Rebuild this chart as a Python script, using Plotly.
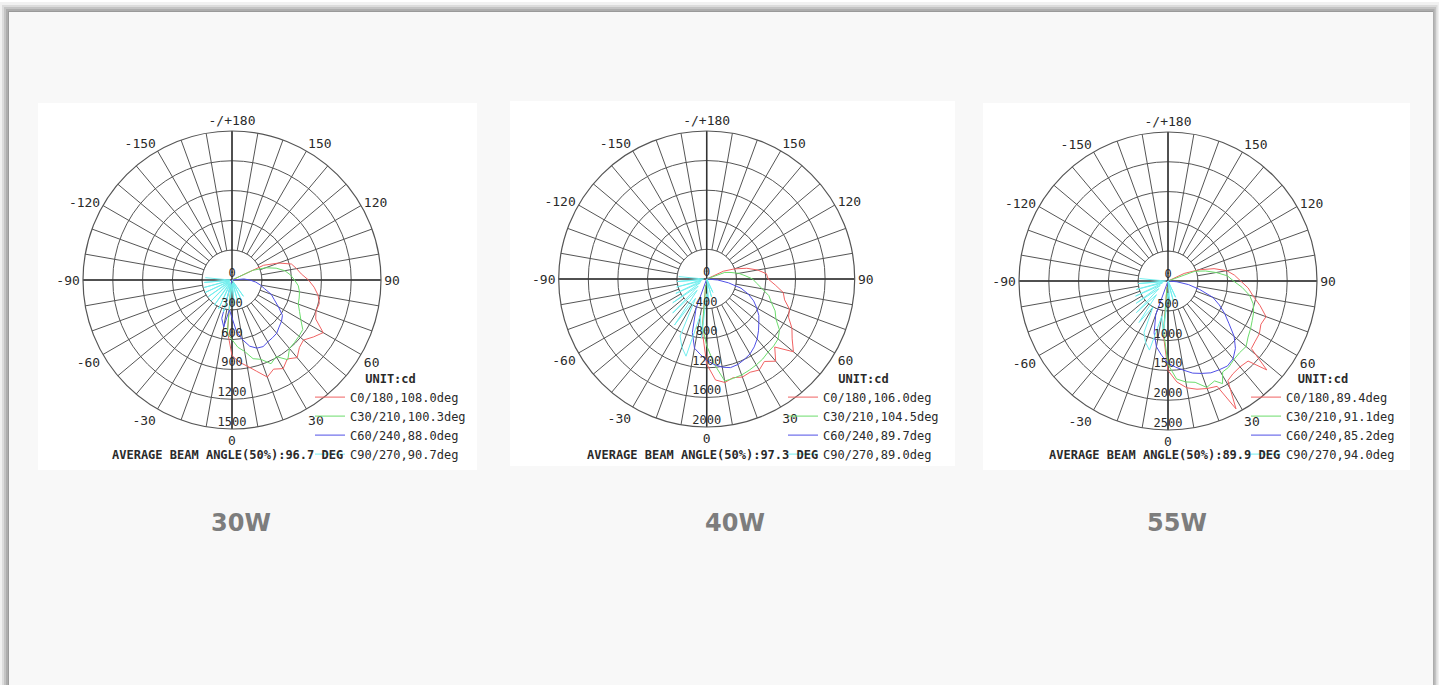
import plotly.graph_objects as go

W, H = 1439, 685

# ---------------- data ----------------
angle_ticks = [0, 30, 60, 90, 120, 150, 180, 210, 240, 270, 300, 330]
angle_labels = ["0", "30", "60", "90", "120", "150", "-/+180", "-150", "-120", "-90", "-60", "-30"]

panel_titles = ["30W", "40W", "55W"]
r_max = [1500, 2000, 2500]
r_step = [300, 400, 500]
beam_texts = ["AVERAGE BEAM ANGLE(50%):96.7 DEG",
              "AVERAGE BEAM ANGLE(50%):97.3 DEG",
              "AVERAGE BEAM ANGLE(50%):89.9 DEG"]
names_30w = ["C0/180,108.0deg", "C30/210,100.3deg", "C60/240,88.0deg", "C90/270,90.7deg"]
names_40w = ["C0/180,106.0deg", "C30/210,104.5deg", "C60/240,89.7deg", "C90/270,89.0deg"]
names_55w = ["C0/180,89.4deg", "C30/210,91.1deg", "C60/240,85.2deg", "C90/270,94.0deg"]

# 30W
red_t_30 = [-10, -5, 0, 5, 10, 15, 20, 25, 30, 35, 40, 45, 50, 55, 60, 65, 70, 75, 80, 85, 90, 95, 100, 105, 110, 115, 120]
red_r_30 = [60, 520, 760, 830, 880, 950, 1040, 990, 1030, 970, 1020, 960, 940, 1000, 1060, 930, 900, 910, 880, 830, 770, 700, 660, 620, 500, 350, 0]
grn_t_30 = [-10, -5, 0, 5, 10, 15, 20, 25, 30, 35, 40, 45, 50, 55, 60, 65, 70, 75, 80, 85, 90, 95, 100, 105, 110, 115, 120]
grn_r_30 = [60, 540, 600, 680, 730, 820, 850, 930, 890, 980, 900, 890, 880, 870, 800, 750, 710, 700, 690, 670, 630, 590, 540, 460, 360, 230, 0]
blu_t_30 = [-20, -15, -10, -5, 0, 5, 10, 15, 20, 25, 30, 35, 40, 45, 50, 55, 60, 65, 70, 75, 80, 85, 90, 95, 100]
blu_r_30 = [0, 400, 480, 300, 380, 520, 610, 690, 730, 740, 720, 710, 700, 670, 650, 620, 540, 470, 420, 340, 290, 240, 180, 120, 0]
cyn_t_30 = [-95, -90, -85, -80, -75, -70, -65, -60, -55, -50, -45, -40, -35, -30, -25, -20, -15, -10, -5, 0, 5, 10, 15, 20, 25, 30, 35, 40]
cyn_r_30 = [270, 20, 280, 30, 290, 20, 300, 30, 290, 40, 300, 30, 310, 40, 320, 30, 330, 50, 300, 40, 260, 30, 240, 30, 220, 20, 200, 0]

# 40W
red_t_40 = [-10, -5, 0, 5, 10, 15, 20, 25, 30, 35, 40, 45, 50, 55, 60, 65, 70, 75, 80, 85, 90, 95, 100, 105, 110, 115, 120]
red_r_40 = [80, 700, 1150, 1370, 1420, 1380, 1410, 1390, 1420, 1360, 1450, 1300, 1530, 1410, 1330, 1220, 1190, 1090, 1050, 930, 830, 810, 700, 560, 400, 250, 0]
grn_t_40 = [-10, -5, 0, 5, 10, 15, 20, 25, 30, 35, 40, 45, 50, 55, 60, 65, 70, 75, 80, 85, 90, 95, 100, 105, 110, 115]
grn_r_40 = [80, 650, 900, 1150, 1400, 1390, 1380, 1360, 1340, 1320, 1290, 1280, 1260, 1200, 1080, 1020, 930, 870, 760, 680, 620, 520, 440, 340, 260, 0]
blu_t_40 = [-25, -20, -15, -10, -5, 0, 5, 10, 15, 20, 25, 30, 35, 40, 45, 50, 55, 60, 65, 70, 75, 80, 85, 90]
blu_r_40 = [0, 420, 750, 950, 1020, 1100, 1160, 1210, 1240, 1230, 1200, 1170, 1120, 1060, 990, 920, 860, 780, 700, 600, 480, 300, 150, 0]
cyn_t_40 = [-95, -90, -85, -80, -75, -70, -65, -60, -55, -50, -45, -40, -35, -30, -25, -20, -15, -10, -5, 0, 5, 10, 15, 20, 25, 30]
cyn_r_40 = [380, 40, 400, 60, 420, 80, 460, 100, 560, 150, 650, 200, 760, 300, 850, 980, 1080, 500, 800, 200, 300, 0, 250, 0, 200, 0]

# 55W
red_t_55 = [-10, -5, 0, 5, 10, 15, 20, 25, 28, 31, 35, 40, 45, 48, 51, 55, 60, 65, 70, 75, 80, 85, 90, 95, 100, 105, 110, 115, 120]
red_r_55 = [100, 900, 1500, 1700, 1820, 1880, 1920, 1950, 2430, 1950, 1900, 1880, 1900, 2230, 1800, 1780, 1770, 1720, 1750, 1600, 1450, 1350, 1220, 1120, 1000, 800, 550, 300, 0]
grn_t_55 = [-10, -5, 0, 5, 10, 15, 20, 25, 28, 31, 35, 40, 45, 50, 55, 60, 65, 70, 75, 80, 85, 90, 95, 100, 105, 110, 115]
grn_r_55 = [100, 850, 1400, 1650, 1720, 1760, 1900, 1850, 1950, 1780, 1770, 1720, 1700, 1710, 1640, 1600, 1560, 1530, 1480, 1390, 1250, 1100, 1000, 820, 650, 480, 0]
blu_t_55 = [-25, -20, -15, -10, -5, 0, 5, 10, 15, 20, 25, 30, 35, 40, 45, 50, 55, 60, 65, 70, 75, 80, 85, 90]
blu_r_55 = [0, 600, 900, 1120, 1250, 1380, 1450, 1520, 1600, 1650, 1700, 1720, 1740, 1700, 1600, 1450, 1250, 1100, 950, 800, 550, 350, 150, 0]
cyn_t_55 = [-95, -90, -85, -80, -75, -70, -65, -60, -55, -50, -45, -40, -35, -30, -25, -20, -15, -10, -5, 0, 5, 10, 15, 20, 25, 30]
cyn_r_55 = [480, 40, 500, 80, 550, 100, 600, 150, 650, 200, 750, 300, 850, 500, 950, 1100, 1200, 600, 900, 200, 400, 0, 350, 0, 300, 0]

curve_colors = ["#f06262", "#6cdc6c", "#4f4fe6", "#72eeee"]

# ---------------- styling ----------------
MONO = "DejaVu Sans Mono, Liberation Mono, monospace"
TXT = "#2a2a2a"
GRID = "#555555"
AXIS = "#333333"

centers = [(232, 280, 149), (706.7, 279, 148), (1168, 281, 149)]
image_boxes = [(38, 103, 477, 470), (510, 101, 955, 466), (983, 103, 1410, 470)]
legend_left = [310, 783, 1246]
legend_top = 367


def px(x):
    return x / W


def py(y):
    return 1 - y / H


panels = [
    (names_30w, [(red_t_30, red_r_30), (grn_t_30, grn_r_30), (blu_t_30, blu_r_30), (cyn_t_30, cyn_r_30)]),
    (names_40w, [(red_t_40, red_r_40), (grn_t_40, grn_r_40), (blu_t_40, blu_r_40), (cyn_t_40, cyn_r_40)]),
    (names_55w, [(red_t_55, red_r_55), (grn_t_55, grn_r_55), (blu_t_55, blu_r_55), (cyn_t_55, cyn_r_55)]),
]

fig = go.Figure()
layout = {}
annotations = []
label_map = dict(zip(angle_ticks, angle_labels))
spoke_vals = list(range(0, 360, 10))
spoke_text = [label_map.get(a, "") for a in spoke_vals]

for i, (names, series) in enumerate(panels):
    sp = "polar" if i == 0 else f"polar{i + 1}"
    lg = "legend" if i == 0 else f"legend{i + 1}"
    rmax, step = r_max[i], r_step[i]
    rings = list(range(step, rmax + 1, step))
    cx, cy, rad = centers[i]

    # blank inner disk (spokes start at the first ring)
    circ_t = list(range(0, 361, 2))
    fig.add_trace(go.Scatterpolar(r=[rings[0]] * len(circ_t), theta=circ_t, mode="lines",
                                  fill="toself", fillcolor="white",
                                  line=dict(color=GRID, width=1), hoverinfo="skip",
                                  showlegend=False, subplot=sp))
    # main axes through the centre
    fig.add_trace(go.Scatterpolar(r=[rmax, 0, rmax], theta=[0, 0, 180], mode="lines",
                                  line=dict(color=AXIS, width=1.5), hoverinfo="skip",
                                  showlegend=False, subplot=sp))
    fig.add_trace(go.Scatterpolar(r=[rmax, 0, rmax], theta=[90, 90, 270], mode="lines",
                                  line=dict(color=AXIS, width=1.5), hoverinfo="skip",
                                  showlegend=False, subplot=sp))
    # curves
    for (t, r), name, col in zip(series, names, curve_colors):
        fig.add_trace(go.Scatterpolar(r=r, theta=t, mode="lines", name=name,
                                      line=dict(color=col, width=1),
                                      subplot=sp, legend=lg))
    # radial labels on the nadir axis
    fig.add_trace(go.Scatterpolar(r=[0] + rings, theta=[0] * (len(rings) + 1), mode="text",
                                  text=[str(v) for v in [0] + rings],
                                  textposition="top center",
                                  textfont=dict(family=MONO, size=12, color=TXT),
                                  cliponaxis=False, hoverinfo="skip",
                                  showlegend=False, subplot=sp))

    layout[sp] = dict(
        domain=dict(x=[px(cx - rad), px(cx + rad)], y=[py(cy + rad), py(cy - rad)]),
        bgcolor="rgba(0,0,0,0)",
        angularaxis=dict(rotation=-90, direction="counterclockwise",
                         tickmode="array", tickvals=spoke_vals, ticktext=spoke_text,
                         showgrid=True, gridcolor=GRID, gridwidth=1,
                         showline=True, linecolor=GRID, linewidth=1.2, ticks="",
                         tickfont=dict(family=MONO, size=13, color=TXT)),
        radialaxis=dict(range=[0, rmax], tickmode="array", tickvals=rings,
                        showgrid=True, gridcolor=GRID, gridwidth=1,
                        showticklabels=False, showline=False, ticks=""),
    )
    layout[lg] = dict(
        x=px(legend_left[i]), y=py(legend_top), xanchor="left", yanchor="top",
        bgcolor="rgba(0,0,0,0)", borderwidth=0, itemwidth=30,
        font=dict(family=MONO, size=12, color=TXT),
        title=dict(text="<b>UNIT:cd</b>", side="top center",
                   font=dict(family=MONO, size=12, color=TXT)),
    )
    annotations.append(dict(x=px(cx - 4), y=py(455), xref="paper", yref="paper",
                            text="<b>" + beam_texts[i] + "</b>", showarrow=False,
                            font=dict(family=MONO, size=12, color=TXT),
                            xanchor="center", yanchor="middle"))

title_x = [241, 735, 1177]
for i, t in enumerate(panel_titles):
    annotations.append(dict(x=px(title_x[i]), y=py(523), xref="paper", yref="paper",
                            text="<b>" + t + "</b>", showarrow=False,
                            font=dict(family="DejaVu Sans", size=24, color="#7d7d7d"),
                            xanchor="center", yanchor="middle"))

shapes = []
# page shadow and panel
for (x0, y0, c) in [(0, 2, "#f1f1f1"), (2, 5, "#dcdcdc"), (4, 7, "#c4c4c4"), (6, 9, "#adadad"), (8, 11, "#9a9a9a")]:
    shapes.append(dict(type="rect", xref="paper", yref="paper", layer="below",
                       x0=px(x0), x1=px(W - x0 * 0.75), y0=0, y1=py(y0),
                       fillcolor=c, line=dict(width=0)))
shapes.append(dict(type="rect", xref="paper", yref="paper", layer="below",
                   x0=px(9), x1=px(1433), y0=0, y1=py(12),
                   fillcolor="#f8f8f8", line=dict(width=0)))
for (x0, y0, x1, y1) in image_boxes:
    shapes.append(dict(type="rect", xref="paper", yref="paper", layer="below",
                       x0=px(x0), x1=px(x1), y0=py(y1), y1=py(y0),
                       fillcolor="white", line=dict(width=0)))

fig.update_layout(
    width=W, height=H, margin=dict(l=0, r=0, t=0, b=0),
    paper_bgcolor="white", plot_bgcolor="white",
    shapes=shapes, annotations=annotations,
    **layout,
)

fig.write_html("out.html", config={"displayModeBar": False},
               post_script="document.body.style.margin='0';document.body.style.overflow='hidden';")
